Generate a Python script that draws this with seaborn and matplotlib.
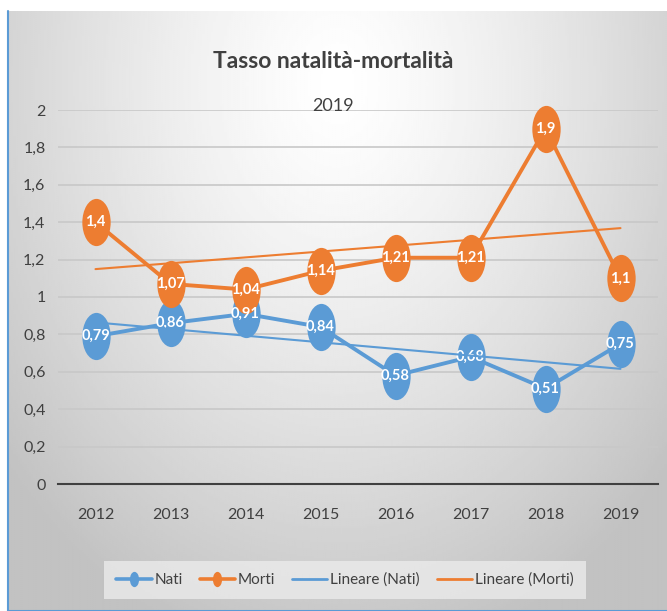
import numpy as np
import pandas as pd
import matplotlib
matplotlib.use("Agg")
import matplotlib.pyplot as plt
import seaborn as sns
from matplotlib.path import Path
from matplotlib.transforms import Affine2D
from matplotlib.lines import Line2D

years = [2012, 2013, 2014, 2015, 2016, 2017, 2018, 2019]
nati = [0.79, 0.86, 0.91, 0.84, 0.58, 0.68, 0.51, 0.75]
morti = [1.4, 1.07, 1.04, 1.14, 1.21, 1.21, 1.9, 1.1]
yticks = [0, 0.2, 0.4, 0.6, 0.8, 1.0, 1.2, 1.4, 1.6, 1.8, 2.0]
title = "Tasso natalità-mortalità"
subtitle = "2019"

sns.set_style("white")
FONT = ["Lato", "DejaVu Sans"]
plt.rcParams["font.family"] = FONT

BLUE = "#5B9BD5"
ORANGE = "#ED7D31"
TXT = "#404040"

W, H = 667, 611
fig = plt.figure(figsize=(W / 100, H / 100), dpi=100)
fig.patch.set_facecolor("white")

# background gradient panel
bx0, by_top = 8, 11
bg = fig.add_axes([bx0 / W, 0, 1 - bx0 / W, 1 - by_top / H], zorder=-5)
gx = np.linspace(0, 1, 300)
gy = np.linspace(0, 1, 300)
GX, GY = np.meshgrid(gx, gy)
r = np.sqrt(((GX - 0.5) / 0.75) ** 2 + ((GY - 0.12) / 1.1) ** 2)
val = np.clip(1.0 - 0.28 * r ** 1.3, 0.76, 1.0)
bg.imshow(val, cmap="gray", vmin=0, vmax=1, aspect="auto", extent=[0, 1, 1, 0],
          interpolation="bilinear")
bg.set_xlim(0, 1)
bg.set_ylim(1, 0)
bg.set_axis_off()
bg.plot([0, 0], [0, 1], color="#5B9BD5", lw=1.5, transform=bg.transAxes, clip_on=False)
bg.plot([0, 1], [0, 0], color="#5B9BD5", lw=1.5, transform=bg.transAxes, clip_on=False)

ax = fig.add_axes([58 / W, 1 - 484 / H, 600 / W, (484 - 110) / H])
ax.set_facecolor("none")

ell = Path.unit_circle().transformed(Affine2D().scale(0.6, 1.0))

df = pd.DataFrame({"year": years + years,
                   "value": nati + morti,
                   "serie": ["Nati"] * len(years) + ["Morti"] * len(years)})

for name, col in [("Nati", BLUE), ("Morti", ORANGE)]:
    sub = df[df.serie == name]
    sns.lineplot(data=sub, x="year", y="value", ax=ax, color=col, lw=2.8,
                 marker=ell, markersize=34, markeredgewidth=0, zorder=3,
                 clip_on=False, legend=False)
    for xv, yv in zip(sub.year, sub.value):
        lab = ("%g" % yv).replace(".", ",")
        ax.text(xv, yv, lab, ha="center", va="center", color="white",
                fontsize=10.5, fontweight="bold", zorder=4, family=FONT)

for vals, col in [(nati, BLUE), (morti, ORANGE)]:
    sns.regplot(x=np.array(years), y=np.array(vals), ax=ax, scatter=False, ci=None,
                truncate=True, line_kws={"color": col, "lw": 1.5, "zorder": 5})

ax.set_xlim(years[0] - 0.5, years[-1] + 0.5)
ax.set_ylim(0, 2)
ax.set_yticks(yticks)
ax.set_yticklabels([("%g" % t).replace(".", ",") for t in yticks])
ax.set_xticks(years)
ax.set_xticklabels([str(y) for y in years])
ax.set_xlabel("")
ax.set_ylabel("")
ax.grid(axis="y", color="#c8c8c8", lw=1.2)
ax.grid(axis="x", visible=False)
for s in ["top", "right", "left"]:
    ax.spines[s].set_visible(False)
ax.spines["bottom"].set_color(TXT)
ax.spines["bottom"].set_linewidth(1.5)
ax.spines["bottom"].set_zorder(2)
ax.tick_params(axis="both", length=0, labelsize=11.5, colors=TXT)
ax.tick_params(axis="y", pad=9)
ax.tick_params(axis="x", pad=17)
ax.set_axisbelow(True)

fig.text(0.5, 1 - 61 / H, title, ha="center", va="center", fontsize=16.5,
         fontweight="bold", color=TXT)
fig.text(0.5, 1 - 106 / H, subtitle, ha="center", va="center", fontsize=13, color=TXT)

handles = [
    Line2D([], [], color=BLUE, lw=2.6, marker=ell, markersize=11, markeredgewidth=0),
    Line2D([], [], color=ORANGE, lw=2.6, marker=ell, markersize=11, markeredgewidth=0),
    Line2D([], [], color=BLUE, lw=2),
    Line2D([], [], color=ORANGE, lw=2),
]
labels = ["Nati", "Morti", "Lineare (Nati)", "Lineare (Morti)"]
leg = fig.legend(handles, labels, loc="center", bbox_to_anchor=(345 / W, 1 - 580 / H),
                 ncol=4, frameon=True, fontsize=11, handlelength=2.3, handletextpad=0.2,
                 columnspacing=1.1, borderpad=0.8, fancybox=False)
leg.get_frame().set_facecolor("#ebebeb")
leg.get_frame().set_edgecolor("none")
for t in leg.get_texts():
    t.set_color(TXT)

fig.savefig("out.png", dpi=100)
